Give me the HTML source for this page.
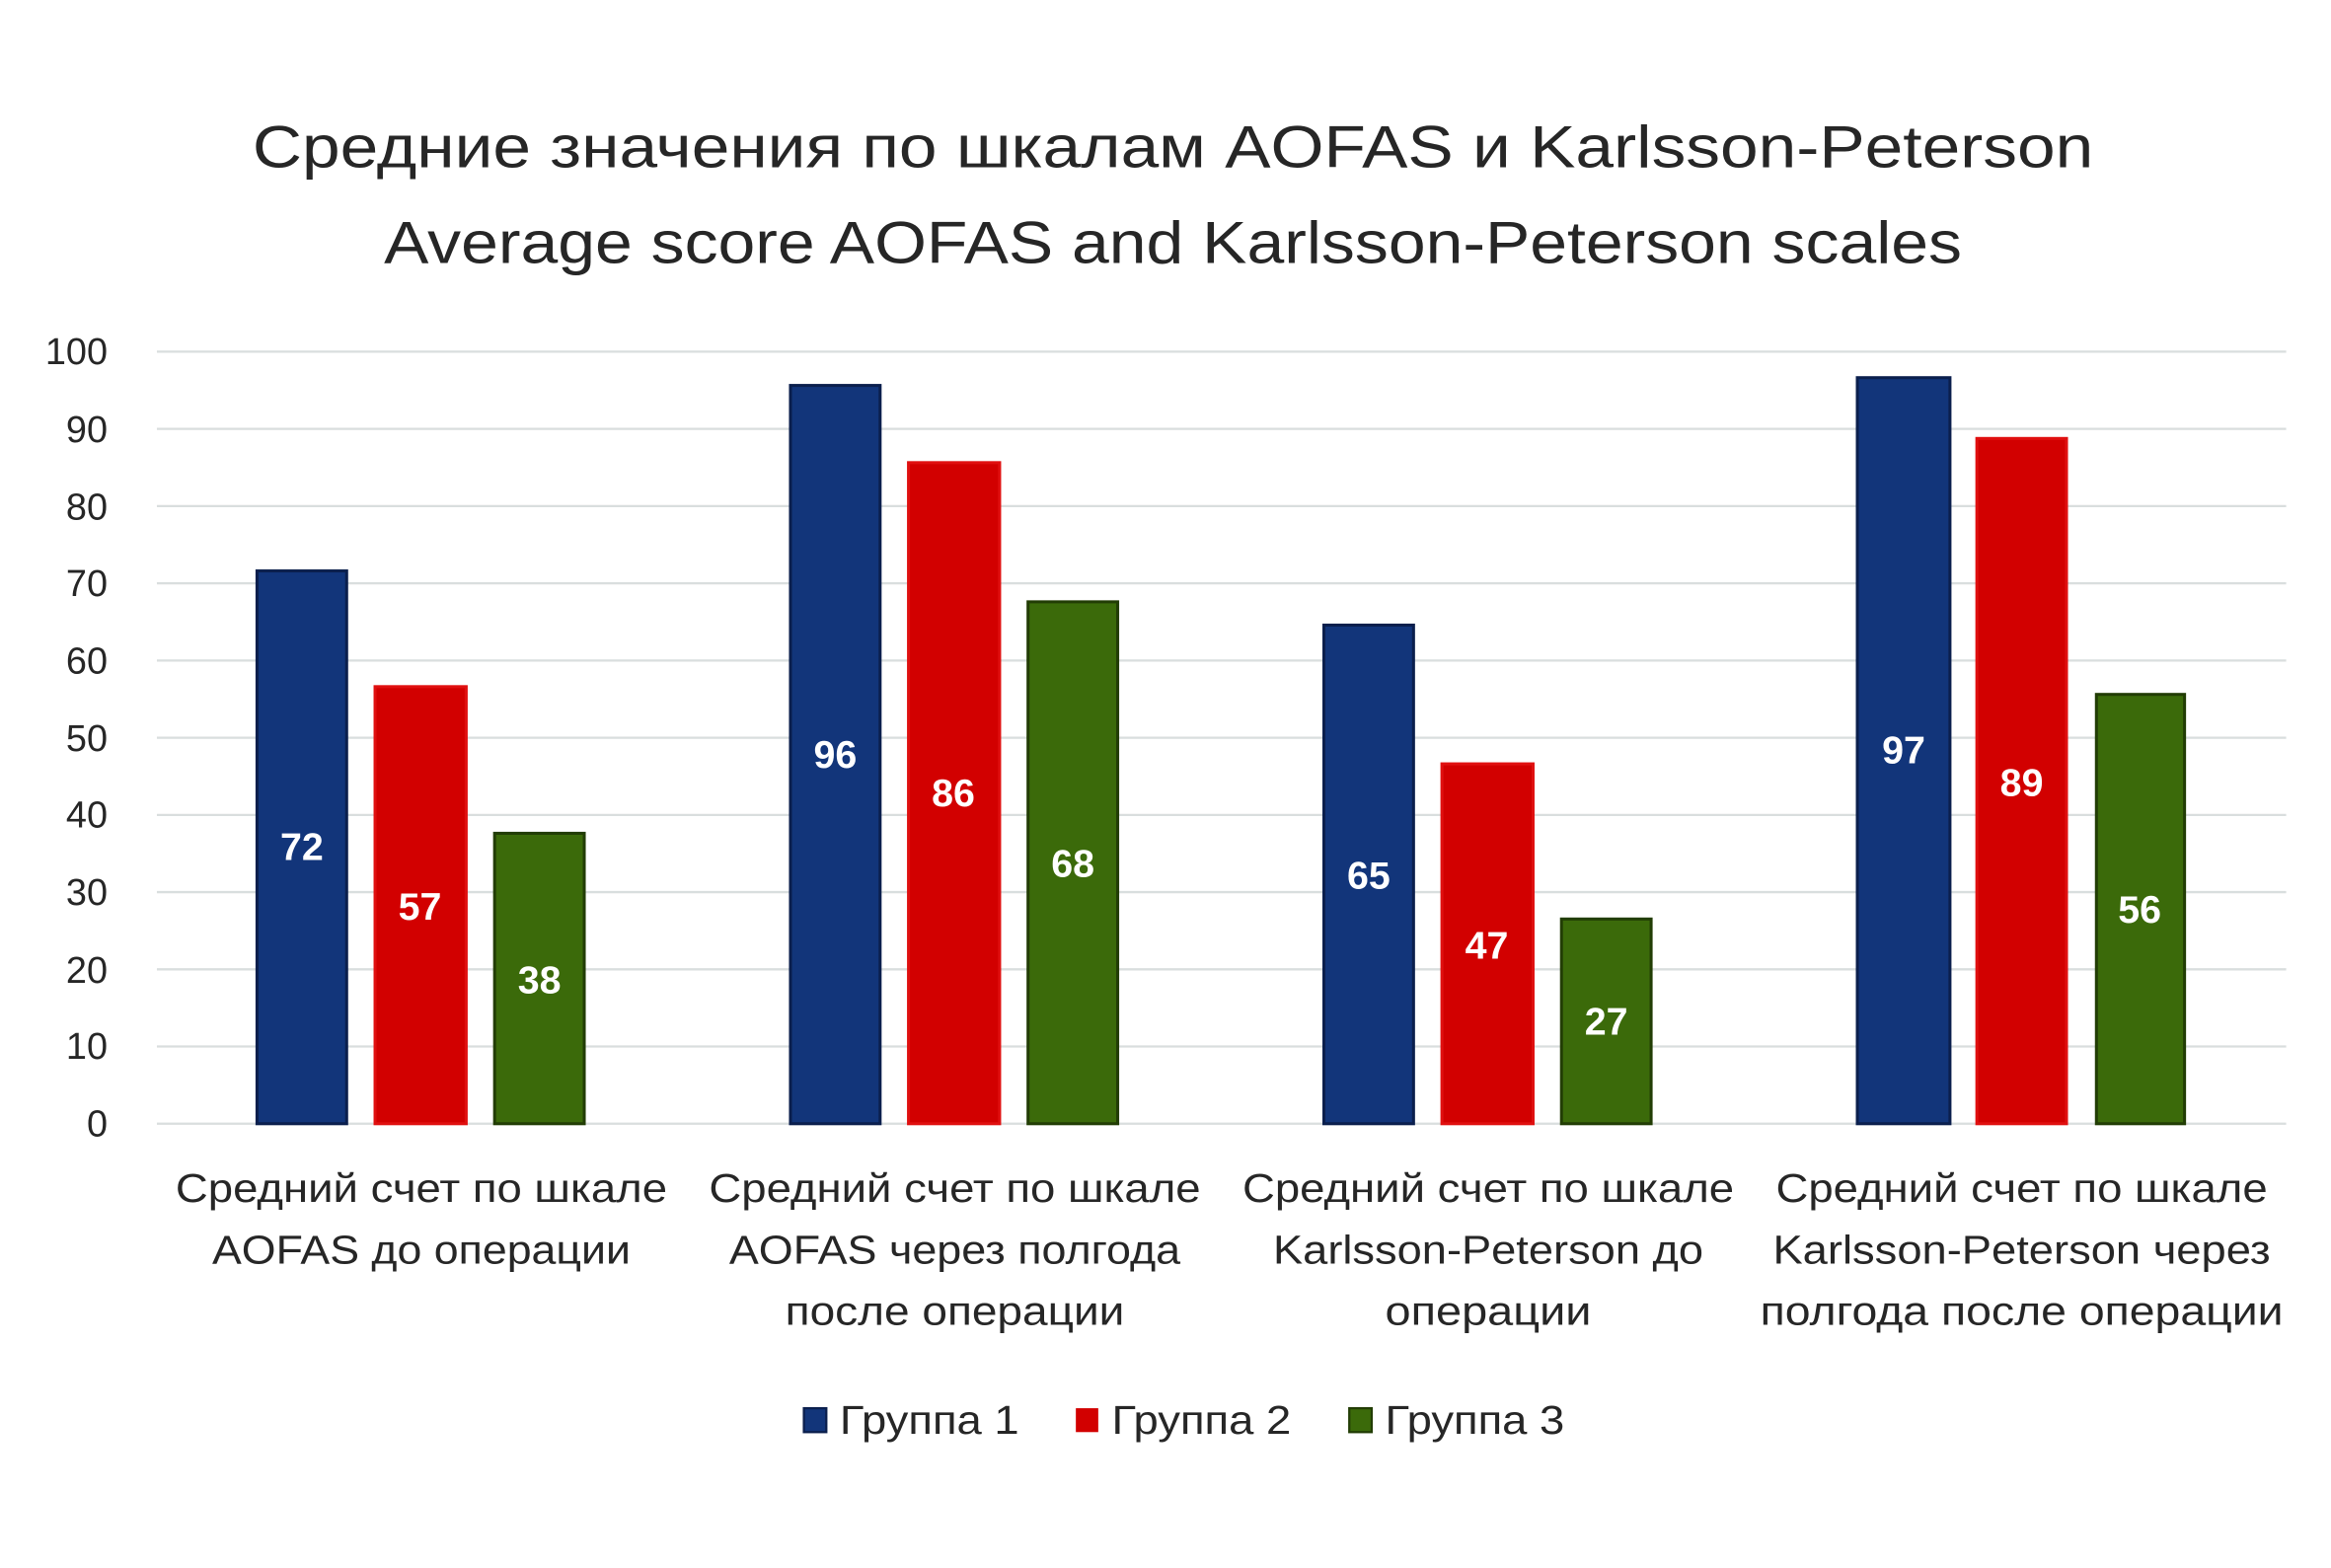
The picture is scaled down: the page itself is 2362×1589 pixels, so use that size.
<!DOCTYPE html>
<html><head><meta charset="utf-8"><style>
html,body{margin:0;padding:0;background:#fff;}
svg{display:block;}
text{font-family:"Liberation Sans","DejaVu Sans",sans-serif;}
</style></head><body>
<svg width="2362" height="1589" viewBox="0 0 1560 1050" preserveAspectRatio="none" xmlns="http://www.w3.org/2000/svg">
<rect width="1560" height="1050" fill="#fff"/>
<g fill="#262626" font-size="40" text-anchor="middle">
<text x="785" y="112" textLength="1232" lengthAdjust="spacingAndGlyphs">Средние значения по шкалам AOFAS и Karlsson-Peterson</text>
<text x="785" y="176" textLength="1056" lengthAdjust="spacingAndGlyphs">Average score AOFAS and Karlsson-Peterson scales</text>
</g>
<g stroke="#d9dede" stroke-width="1.5">
<line x1="105" x2="1530" y1="235.5" y2="235.5"/>
<line x1="105" x2="1530" y1="287.2" y2="287.2"/>
<line x1="105" x2="1530" y1="338.9" y2="338.9"/>
<line x1="105" x2="1530" y1="390.6" y2="390.6"/>
<line x1="105" x2="1530" y1="442.3" y2="442.3"/>
<line x1="105" x2="1530" y1="494" y2="494"/>
<line x1="105" x2="1530" y1="545.7" y2="545.7"/>
<line x1="105" x2="1530" y1="597.4" y2="597.4"/>
<line x1="105" x2="1530" y1="649.1" y2="649.1"/>
<line x1="105" x2="1530" y1="700.8" y2="700.8"/>
<line x1="105" x2="1530" y1="752.5" y2="752.5"/>
</g>
<g fill="#262626" font-size="25" text-anchor="end">
<text x="72" y="244">100</text><text x="72" y="296">90</text><text x="72" y="348">80</text>
<text x="72" y="399">70</text><text x="72" y="451">60</text><text x="72" y="503">50</text>
<text x="72" y="554">40</text><text x="72" y="606">30</text><text x="72" y="658">20</text>
<text x="72" y="709">10</text><text x="72" y="761">0</text>
</g>
<g stroke-width="2">
<rect x="172" y="382.3" width="60" height="370.2" fill="#12357a" stroke="#0b1f4d"/>
<rect x="251" y="459.8" width="61" height="292.7" fill="#d20000" stroke="#e01010"/>
<rect x="331" y="558" width="60" height="194.5" fill="#3b6a0a" stroke="#223d05"/>
<rect x="529" y="258.1" width="60" height="494.4" fill="#12357a" stroke="#0b1f4d"/>
<rect x="608" y="309.8" width="61" height="442.7" fill="#d20000" stroke="#e01010"/>
<rect x="688" y="403" width="60" height="349.5" fill="#3b6a0a" stroke="#223d05"/>
<rect x="886" y="418.6" width="60" height="333.9" fill="#12357a" stroke="#0b1f4d"/>
<rect x="965" y="511.5" width="61" height="241" fill="#d20000" stroke="#e01010"/>
<rect x="1045" y="615.4" width="60" height="137.1" fill="#3b6a0a" stroke="#223d05"/>
<rect x="1243" y="252.9" width="62" height="499.6" fill="#12357a" stroke="#0b1f4d"/>
<rect x="1323" y="293.6" width="60" height="458.9" fill="#d20000" stroke="#e01010"/>
<rect x="1403" y="465" width="59" height="287.5" fill="#3b6a0a" stroke="#223d05"/>
</g>
<g fill="#fff" font-size="26" font-weight="bold" text-anchor="middle">
<text x="202" y="576">72</text><text x="281" y="616">57</text><text x="361" y="665">38</text>
<text x="559" y="514">96</text><text x="638" y="540">86</text><text x="718" y="587">68</text>
<text x="916" y="595">65</text><text x="995" y="642">47</text><text x="1075" y="693">27</text>
<text x="1274" y="511">97</text><text x="1353" y="533">89</text><text x="1432" y="618">56</text>
</g>
<g fill="#262626" font-size="27" text-anchor="middle">
<text x="282" y="805" textLength="329" lengthAdjust="spacingAndGlyphs">Средний счет по шкале</text>
<text x="282" y="846" textLength="280" lengthAdjust="spacingAndGlyphs">AOFAS до операции</text>
<text x="639" y="805" textLength="329" lengthAdjust="spacingAndGlyphs">Средний счет по шкале</text>
<text x="639" y="846" textLength="302" lengthAdjust="spacingAndGlyphs">AOFAS через полгода</text>
<text x="639" y="887" textLength="227" lengthAdjust="spacingAndGlyphs">после операции</text>
<text x="996" y="805" textLength="329" lengthAdjust="spacingAndGlyphs">Средний счет по шкале</text>
<text x="996" y="846" textLength="288" lengthAdjust="spacingAndGlyphs">Karlsson-Peterson до</text>
<text x="996" y="887" textLength="138" lengthAdjust="spacingAndGlyphs">операции</text>
<text x="1353" y="805" textLength="329" lengthAdjust="spacingAndGlyphs">Средний счет по шкале</text>
<text x="1353" y="846" textLength="333" lengthAdjust="spacingAndGlyphs">Karlsson-Peterson через</text>
<text x="1353" y="887" textLength="350" lengthAdjust="spacingAndGlyphs">полгода после операции</text>
</g>
<rect x="538" y="943" width="15" height="16" fill="#12357a" stroke="#0b1f4d" stroke-width="1.5"/>
<rect x="720" y="943" width="15" height="16" fill="#d20000"/>
<rect x="903" y="943" width="15" height="16" fill="#3b6a0a" stroke="#223d05" stroke-width="1.5"/>
<g fill="#262626" font-size="27">
<text x="562" y="960" textLength="120" lengthAdjust="spacingAndGlyphs">Группа 1</text>
<text x="744" y="960" textLength="120" lengthAdjust="spacingAndGlyphs">Группа 2</text>
<text x="927" y="960" textLength="120" lengthAdjust="spacingAndGlyphs">Группа 3</text>
</g>
</svg>
</body></html>
